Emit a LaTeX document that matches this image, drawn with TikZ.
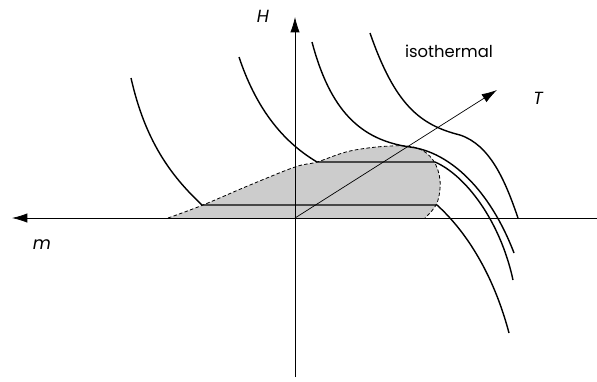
\documentclass[tikz,border=0pt]{standalone}
\usepackage{fontspec}
\setmainfont{Poppins}
\usepackage{tikz}
\usetikzlibrary{arrows.meta, positioning}
\definecolor{mygray}{RGB}{204,204,204}
\tikzset{
  axis/.style={line width=0.6pt, -{Latex[length=4.6mm, width=2.8mm]}},
  iso/.style={line width=1.2pt, line join=miter},
  coex/.style={line width=0.7pt, dash pattern=on 3pt off 2pt},
  lbl/.style={font=\fontsize{15}{15}\selectfont\itshape, inner sep=0pt},
  note/.style={font=\fontsize{14}{14}\selectfont, inner sep=0pt}
}

\begin{document}
\begin{tikzpicture}[x=0.03cm, y=-0.03cm]
  \useasboundingbox (0,0) rectangle (597,381);

  % two-phase region
  \fill[mygray] plot[smooth, tension=0.6] coordinates {(168,218) (203,205) (250,185) (295,167) (317,162) (350,151) (390,146) (417,148) (433,160) (440,180) (437,203) (425,218)} -- cycle;
  \draw[coex] plot[smooth, tension=0.6] coordinates {(168,218) (203,205) (250,185) (295,167) (317,162) (350,151) (390,146) (417,148) (433,160) (440,180) (437,203) (425,218)};

  % axes
  \coordinate (O) at (295,218);
  \coordinate (Hbot) at (295,377);
  \coordinate (Htip) at (295,17);
  \coordinate (mright) at (597,218);
  \coordinate (mtip) at (12,218);
  \coordinate (Ttip) at (497,90);
  \draw[axis] (Hbot) -- (Htip);
  \draw[axis] (mright) -- (mtip);
  \draw[axis] (O) -- (Ttip);

  \node[lbl] (H) at (263,16) {H};
  \node[lbl] (m) at (42,245) {m};
  \node[lbl] (T) at (538,98) {T};
  \node[note] (isolbl) at (449,51) {isothermal};

  % isotherms
  \draw[iso] (131,78) .. controls (145,140) and (170,175) .. (202,205)
    -- (437,205) .. controls (470,235) and (495,280) .. (509,333);
  \draw[iso] (239,57) .. controls (255,105) and (280,140) .. (317,162)
    -- (435,162) .. controls (465,175) and (500,220) .. (513,280);
  \draw[iso] (312,42) .. controls (330,110) and (360,140) .. (410,147)
    .. controls (450,152) and (490,190) .. (514,253);
  \draw[iso] (370,33) .. controls (395,105) and (420,125) .. (460,135)
    .. controls (490,145) and (505,180) .. (518,218);
\end{tikzpicture}
\end{document}
